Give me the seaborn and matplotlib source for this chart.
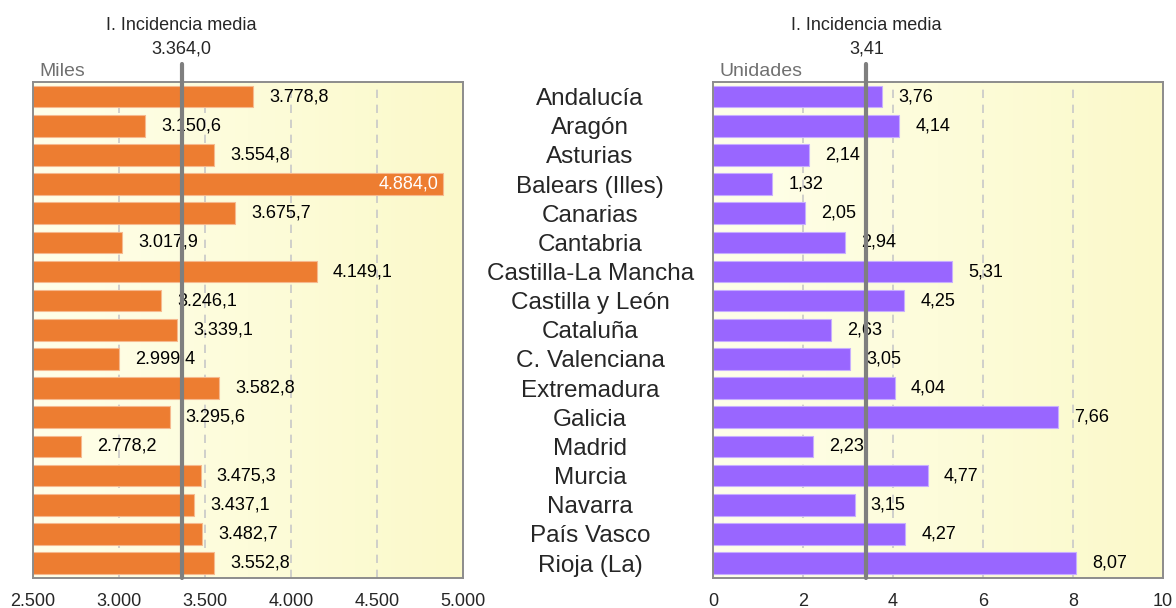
import numpy as np
import pandas as pd
import matplotlib
matplotlib.use("Agg")
import matplotlib.pyplot as plt
import matplotlib.transforms as mtransforms
import seaborn as sns

# Data
regions = ["Andalucía", "Aragón", "Asturias", "Balears (Illes)", "Canarias", "Cantabria",
           "Castilla-La Mancha", "Castilla y León", "Cataluña", "C. Valenciana", "Extremadura",
           "Galicia", "Madrid", "Murcia", "Navarra", "País Vasco", "Rioja (La)"]
miles = [3778.8, 3150.6, 3554.8, 4884.0, 3675.7, 3017.9, 4149.1, 3246.1, 3339.1, 2999.4,
         3582.8, 3295.6, 2778.2, 3475.3, 3437.1, 3482.7, 3552.8]
unidades = [3.76, 4.14, 2.14, 1.32, 2.05, 2.94, 5.31, 4.25, 2.63, 3.05, 4.04, 7.66, 2.23,
            4.77, 3.15, 4.27, 8.07]
media_miles = 3364.0
media_unid = 3.41
ticks_left = [2500, 3000, 3500, 4000, 4500, 5000]
ticks_right = [0, 2, 4, 6, 8, 10]

df = pd.DataFrame({"region": regions, "miles": miles, "unidades": unidades})


def fmt_es(v, dec):
    s = f"{v:,.{dec}f}"
    return s.replace(",", "X").replace(".", ",").replace("X", ".")


sns.set_style("white")
plt.rcParams["font.family"] = ["Liberation Sans", "DejaVu Sans"]

fig = plt.figure(figsize=(11.76, 6.08), dpi=100)
ax1 = fig.add_axes([0.0281, 0.050, 0.3656, 0.8150])
ax2 = fig.add_axes([0.6063, 0.050, 0.3827, 0.8150])

grad = np.linspace(0, 1, 256).reshape(1, -1)
bg_cmap = matplotlib.colors.LinearSegmentedColormap.from_list("bg", ["#FFFFEA", "#FBF9CA"])

panels = [
    (ax1, "miles", "#ED7D31", "#F6B98E", (2500, 5000), ticks_left, media_miles, 1, "Miles"),
    (ax2, "unidades", "#9966FF", "#C7AEFF", (0, 10), ticks_right, media_unid, 2, "Unidades"),
]

for ax, col, color, edge, xlim, ticks, media, dec, unit in panels:
    ax.imshow(grad, aspect="auto", cmap=bg_cmap, extent=[0, 1, 0, 1],
              transform=ax.transAxes, zorder=0)
    sns.barplot(data=df, y="region", x=col, orient="h", color=color, width=0.74,
                edgecolor=edge, linewidth=0.8, saturation=1, ax=ax, zorder=2)
    ax.set_xlim(*xlim)
    ax.set_ylim(len(regions) - 0.5, -0.5)
    ax.set_xticks(ticks)
    ax.set_xticklabels([fmt_es(t, 0) for t in ticks], fontsize=13)
    ax.set_xlabel("")
    ax.set_ylabel("")
    for t in ticks[1:-1]:
        ax.axvline(t, color="#C8C8C8", lw=1.2, ls=(0, (5, 4)), zorder=1)
    for s in ax.spines.values():
        s.set_color("#8C8C8C")
        s.set_linewidth(1.4)
    ax.tick_params(axis="x", direction="out", length=5, width=1.2, color="#808080", pad=6)
    ax.set_facecolor("none")

    # value labels
    for i, v in enumerate(df[col]):
        if col == "miles" and v > 4800:
            ax.annotate(fmt_es(v, dec), (v, i), xytext=(-3, 0), textcoords="offset points",
                        ha="right", va="center", fontsize=13, color="white", zorder=4)
        else:
            ax.annotate(fmt_es(v, dec), (v, i), xytext=(11.5, 0), textcoords="offset points",
                        ha="left", va="center", fontsize=13, color="black", zorder=4)

    # mean line
    trans = mtransforms.blended_transform_factory(ax.transData, ax.transAxes)
    ax.plot([media, media], [0, 1.037], color="#7F7F7F", lw=3, transform=trans,
            clip_on=False, zorder=5)
    ax.text(media, 1.05, "I. Incidencia media\n" + fmt_es(media, dec), transform=trans,
            ha="center", va="bottom", fontsize=13, linespacing=1.45)
    ax.text(0.015, 1.005, unit, transform=ax.transAxes, ha="left", va="bottom",
            fontsize=14, color="#707070")

ax1.set_yticks([])
ax2.set_yticks(range(len(regions)))
ax2.set_yticklabels(regions, fontsize=17.5, ha="center")
ax2.tick_params(axis="y", length=0, pad=88.5)

fig.savefig("out.png", dpi=100)
